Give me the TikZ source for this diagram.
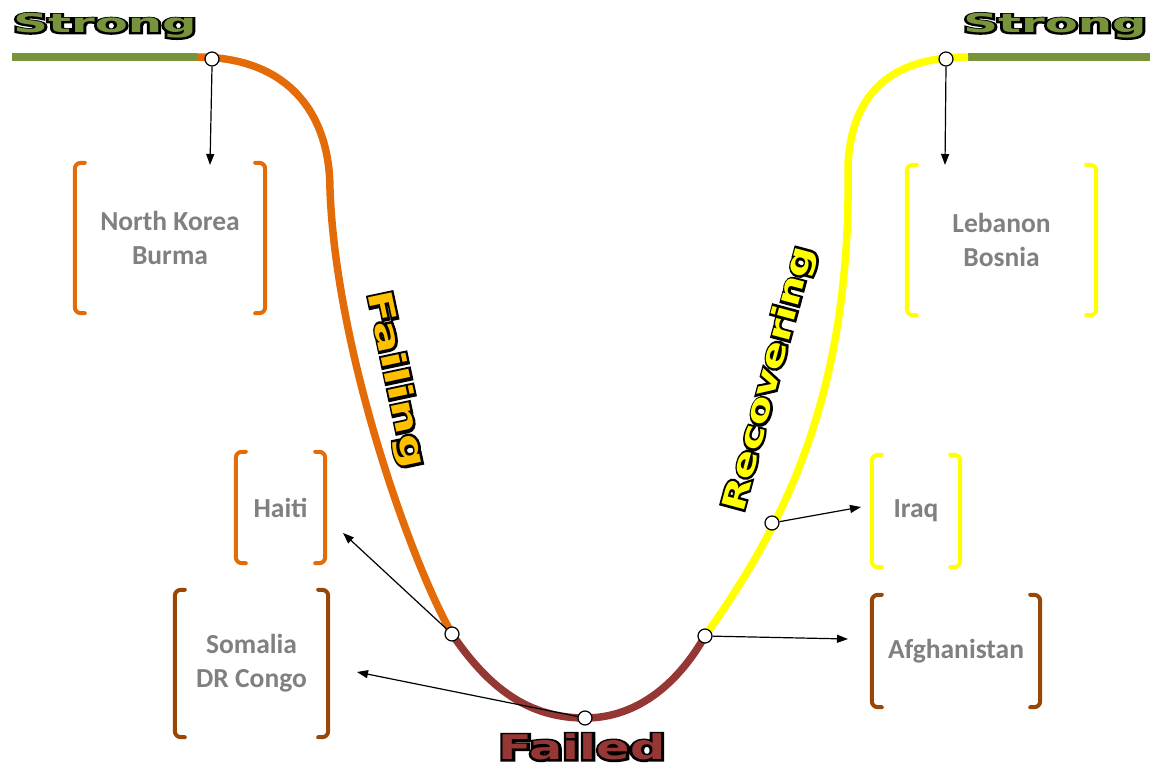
\documentclass[tikz,border=0pt]{standalone}
\usepackage{fontspec}
\usepackage{graphicx}
\usetikzlibrary{arrows.meta}
\setmainfont{Carlito}
% heavy face for the stage labels, plain and with a stroked outline
\newfontfamily\headfont{DejaVuSans-Bold.ttf}
\newfontfamily\headline{DejaVuSans-Bold.ttf}[FakeBold=12]

\definecolor{stronggreen}{HTML}{77933C}
\definecolor{failorange}{HTML}{E36C09}
\definecolor{failedred}{HTML}{953735}
\definecolor{recyellow}{HTML}{FFFF00}
\definecolor{brownish}{HTML}{984806}
\definecolor{failinglbl}{HTML}{FFC000}
\definecolor{countrygray}{HTML}{808080}

\tikzset{
  trend/.style={line width=7.5pt},
  dot/.style={circle, draw=black, fill=white, line width=1.2pt, minimum size=14pt, inner sep=0pt},
  arr/.style={line width=1.2pt, -{Triangle[length=11pt,width=8pt]}},
  hl/.style={inner sep=0pt},
  cbox/.style={inner sep=0pt, align=center, text=countrygray,
    font=\bfseries\fontsize{27.5}{34}\selectfont},
  brk/.style={line width=4pt, rounded corners=6pt, line cap=round},
}

% outlined heading: black stroked layer under a coloured fill layer
% name, x,y, angle, fill colour, font size, x-stretch, text
\newcommand\hlabel[7]{%
  \node[hl, text=black, rotate=#3] at (#2)
      {\headline\fontsize{#5}{#5}\selectfont\scalebox{#6}[1]{#7}};
  \node[hl, text=#4, rotate=#3] (#1) at (#2)
      {\headfont\fontsize{#5}{#5}\selectfont\scalebox{#6}[1]{#7}};}

% bracketed box around a node
\newcommand\brackets[2]{%
  \draw[brk, #2] ([xshift=10pt]#1.north west) -- (#1.north west) -- (#1.south west) -- ([xshift=10pt]#1.south west);
  \draw[brk, #2] ([xshift=-10pt]#1.north east) -- (#1.north east) -- (#1.south east) -- ([xshift=-10pt]#1.south east);}

\begin{document}
\begin{tikzpicture}[x=1pt, y=-1pt]
\useasboundingbox (0,0) rectangle (1152,768);

% points along the curve
\coordinate (gL) at (12,57);
\coordinate (sL) at (197,57);
\coordinate (kL) at (330,190);
\coordinate (fL) at (452,634);
\coordinate (bot) at (585,718);
\coordinate (fR) at (705,636);
\coordinate (kR) at (848,165);
\coordinate (sR) at (968,57);
\coordinate (gR) at (1150,57);

% strong plateaus
\draw[trend, stronggreen] (gL) -- (sL);
\draw[trend, stronggreen] (sR) -- (gR);
% failing branch
\draw[trend, failorange] (sL) .. controls (285,57) and (330,110) .. (kL)
  .. controls (336,350) and (410,560) .. (fL);
% failed trough
\draw[trend, failedred] (fL) .. controls (490,690) and (530,718) .. (bot)
  .. controls (640,718) and (680,680) .. (fR);
% recovering branch
\draw[trend, recyellow] (fR) .. controls (780,530) and (852,400) .. (kR)
  .. controls (852,85) and (900,57) .. (sR);

% country boxes
\node[cbox, minimum width=190pt, minimum height=150pt] (nk) at (170,238) {North Korea\\Burma};
\node[cbox, minimum width=189pt, minimum height=150pt] (lb) at (1001.5,240) {Lebanon\\Bosnia};
\node[cbox, minimum width=89pt, minimum height=111pt] (ht) at (280.5,507.5) {Haiti};
\node[cbox, minimum width=153pt, minimum height=147pt] (so) at (251.5,663.5) {Somalia\\DR Congo};
\node[cbox, minimum width=88pt, minimum height=112pt] (iq) at (916,511) {Iraq};
\node[cbox, minimum width=168pt, minimum height=112pt] (af) at (956,651) {Afghanistan};
\brackets{nk}{failorange}
\brackets{ht}{failorange}
\brackets{lb}{recyellow}
\brackets{iq}{recyellow}
\brackets{so}{brownish}
\brackets{af}{brownish}

% arrow ends
\coordinate (aNK) at (210,165);
\coordinate (aLB) at (945,165);
\coordinate (aHT) at (343,533);
\coordinate (aSO) at (357,672);
\coordinate (aIQ) at (861,507);
\coordinate (aAF) at (848,639);

% markers
\node[dot] (pNK) at (212,59) {};
\node[dot] (pLB) at (946,59) {};
\node[dot] (pHT) at (452,634) {};
\node[dot] (pSO) at (585,718) {};
\node[dot] (pIQ) at (772,523) {};
\node[dot] (pAF) at (705,636) {};

\draw[arr] (pNK.south) -- (aNK);
\draw[arr] (pLB.south) -- (aLB);
\draw[arr] (pHT) -- (aHT);
\draw[arr] (pSO) -- (aSO);
\draw[arr] (pIQ) -- (aIQ);
\draw[arr] (pAF) -- (aAF);

% stage labels
\hlabel{strongL}{105,26}{0}{stronggreen}{26}{1.85}{Strong}
\hlabel{strongR}{1055,26}{0}{stronggreen}{26}{1.85}{Strong}
\hlabel{failed}{582,747}{0}{failedred}{34}{1.45}{Failed}
\hlabel{failing}{395,380}{-78}{failinglbl}{33}{1.45}{Failing}
\hlabel{recov}{770,379}{75}{recyellow}{32}{1.35}{Recovering}
\end{tikzpicture}
\end{document}
